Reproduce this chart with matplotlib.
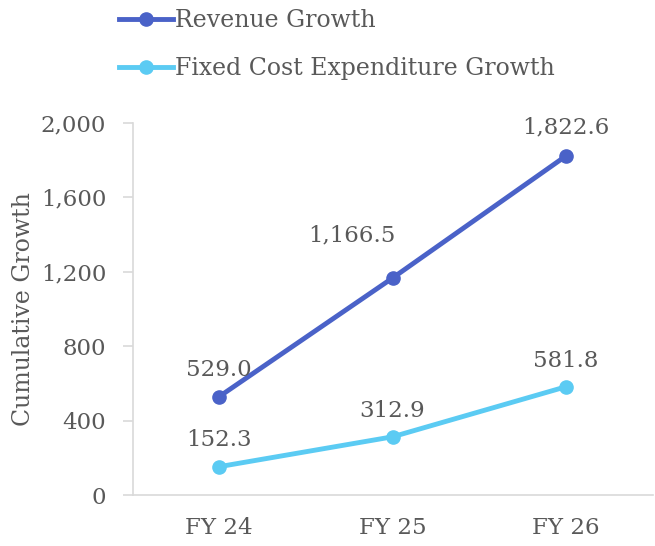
"""Cumulative revenue vs fixed cost growth, FY 24 - FY 26."""

import matplotlib

matplotlib.use("Agg")
import matplotlib.pyplot as plt
import numpy as np
from matplotlib.ticker import FuncFormatter, MultipleLocator

YEARS = ["FY 24", "FY 25", "FY 26"]
REVENUE = [529.0, 1166.5, 1822.6]
FIXED_COST = [152.3, 312.9, 581.8]

REV_COLOR = "#4A62C8"
COST_COLOR = "#5BCBF3"
TEXT = "#595959"
AXIS = "#D9D9D9"
FS = 16.5

plt.rcParams["font.family"] = ["DejaVu Serif"]

fig = plt.figure(figsize=(6.55, 5.46), dpi=100)
ax = fig.add_axes([0.2023, 0.0934, 0.7939, 0.6813])

x = np.arange(len(YEARS))
(rev_line,) = ax.plot(x, REVENUE, color=REV_COLOR, lw=3.5, marker="o",
                      markersize=9.5, label="Revenue Growth")
(cost_line,) = ax.plot(x, FIXED_COST, color=COST_COLOR, lw=3.5, marker="o",
                       markersize=9.5, label="Fixed Cost Expenditure Growth")

# label offsets in points (dx, dy), matching the hand-placed labels
rev_offsets = [(0, 11), (-29, 23), (0, 13)]
cost_offsets = [(0, 11), (0, 11), (0, 11)]
for xs, ys, offs in ((x, REVENUE, rev_offsets), (x, FIXED_COST, cost_offsets)):
    for xi, yi, (dx, dy) in zip(xs, ys, offs):
        ax.annotate(f"{yi:,.1f}", (xi, yi), xytext=(dx, dy),
                    textcoords="offset points", ha="center", va="bottom",
                    fontsize=FS, color=TEXT)

ax.set_xlim(-0.5, 2.5)
ax.set_ylim(0, 2000)
ax.set_xticks(x)
ax.set_xticklabels(YEARS)
ax.yaxis.set_major_locator(MultipleLocator(400))
ax.yaxis.set_major_formatter(FuncFormatter(lambda v, _: f"{v:,.0f}"))
ax.set_ylabel("Cumulative Growth", fontsize=17, color=TEXT, labelpad=4)

for side in ("top", "right"):
    ax.spines[side].set_visible(False)
for side in ("left", "bottom"):
    ax.spines[side].set_color(AXIS)
    ax.spines[side].set_linewidth(1.2)
ax.tick_params(axis="y", length=7, width=1.2, color=AXIS, labelsize=FS,
               labelcolor=TEXT, pad=12)
ax.tick_params(axis="x", length=0, labelsize=FS, labelcolor=TEXT, pad=16)

fig.legend(handles=[rev_line, cost_line], loc="upper left",
           bbox_to_anchor=(0.167, 1.0), frameon=False, fontsize=17,
           labelcolor=TEXT, handlelength=2.3, handletextpad=0.1,
           labelspacing=1.05, borderaxespad=0)

fig.savefig("out.png", dpi=100)
